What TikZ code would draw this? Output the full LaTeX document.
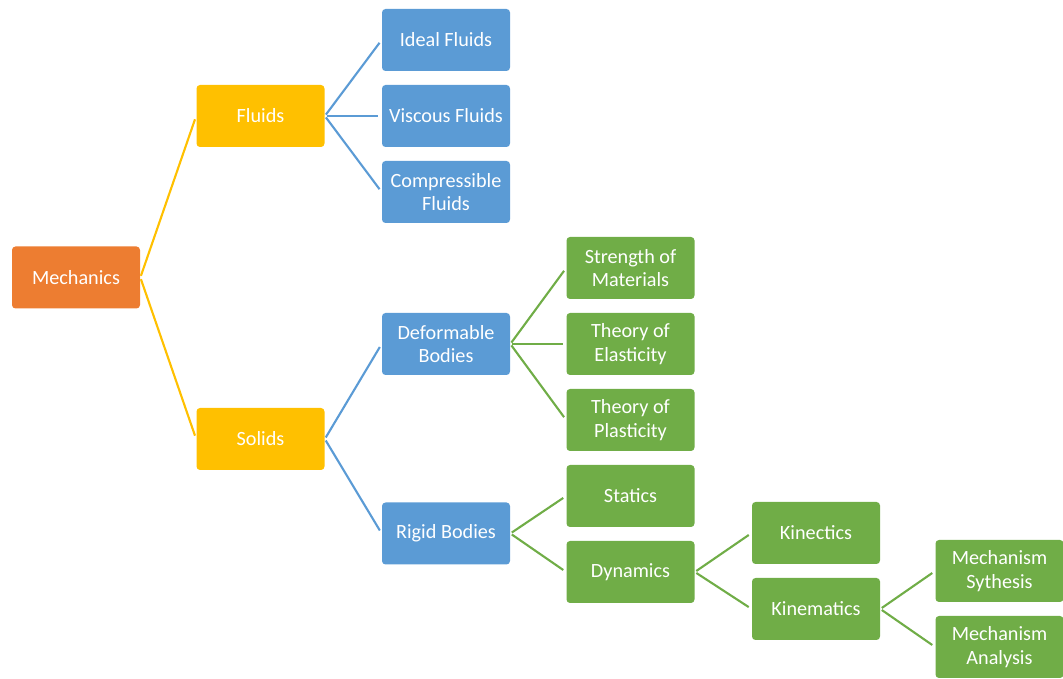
\documentclass[tikz,border=0pt]{standalone}
\usepackage{fontspec}
\setmainfont{Carlito}
\usepackage{tikz}
\usetikzlibrary{shapes}
\definecolor{mech_orange}{HTML}{ED7D31}
\definecolor{mech_gold}{HTML}{FFC000}
\definecolor{mech_blue}{HTML}{5B9BD5}
\definecolor{mech_green}{HTML}{70AD47}
\tikzset{
  topic/.style = {rectangle, rounded corners=2pt, align=center, inner sep=0pt,
    minimum width=2.56cm, minimum height=1.24cm, text=white,
    font=\fontsize{11.5}{13.5}\selectfont},% base box
  root_topic/.style = {topic, fill=mech_orange},% Mechanics
  gold_topic/.style = {topic, fill=mech_gold},% first level
  blue_topic/.style = {topic, fill=mech_blue},% second level
  green_topic/.style = {topic, fill=mech_green},% deeper levels
  gold_link/.style = {draw=mech_gold, line width=1.2pt, shorten <=1pt, shorten >=2pt},
  blue_link/.style = {draw=mech_blue, line width=1.2pt, shorten <=1pt, shorten >=2pt},
  green_link/.style = {draw=mech_green, line width=1.2pt, shorten <=1pt, shorten >=2pt}
}
\begin{document}
\begin{tikzpicture}
    \useasboundingbox (0,0) rectangle (21.26,-13.58);
    % boxes
    \node [root_topic] (mechanics) at (1.52,-5.55) {Mechanics};
    \node [gold_topic] (fluids) at (5.21,-2.32) {Fluids};
    \node [gold_topic] (solids) at (5.21,-8.78) {Solids};
    \node [blue_topic] (ideal) at (8.92,-0.80) {Ideal Fluids};
    \node [blue_topic] (viscous) at (8.92,-2.32) {Viscous Fluids};
    \node [blue_topic] (compressible) at (8.92,-3.84) {Compressible\\Fluids};
    \node [blue_topic] (deformable) at (8.92,-6.88) {Deformable\\Bodies};
    \node [blue_topic] (rigid) at (8.92,-10.67) {Rigid Bodies};
    \node [green_topic] (strength) at (12.61,-5.36) {Strength of\\Materials};
    \node [green_topic] (elasticity) at (12.61,-6.88) {Theory of\\Elasticity};
    \node [green_topic] (plasticity) at (12.61,-8.40) {Theory of\\Plasticity};
    \node [green_topic] (statics) at (12.61,-9.92) {Statics};
    \node [green_topic] (dynamics) at (12.61,-11.44) {Dynamics};
    \node [green_topic] (kinectics) at (16.32,-10.66) {Kinectics};
    \node [green_topic] (kinematics) at (16.32,-12.18) {Kinematics};
    \node [green_topic] (synthesis) at (19.99,-11.42) {Mechanism\\Sythesis};
    \node [green_topic] (analysis) at (19.99,-12.94) {Mechanism\\Analysis};
    % links
    \foreach \child in {fluids, solids}
      \draw [gold_link] (mechanics.east) -- (\child.west);
    \foreach \child in {ideal, viscous, compressible}
      \draw [blue_link] (fluids.east) -- (\child.west);
    \foreach \child in {deformable, rigid}
      \draw [blue_link] (solids.east) -- (\child.west);
    \foreach \child in {strength, elasticity, plasticity}
      \draw [green_link] (deformable.east) -- (\child.west);
    \foreach \child in {statics, dynamics}
      \draw [green_link] (rigid.east) -- (\child.west);
    \foreach \child in {kinectics, kinematics}
      \draw [green_link] (dynamics.east) -- (\child.west);
    \foreach \child in {synthesis, analysis}
      \draw [green_link] (kinematics.east) -- (\child.west);
\end{tikzpicture}
\end{document}
